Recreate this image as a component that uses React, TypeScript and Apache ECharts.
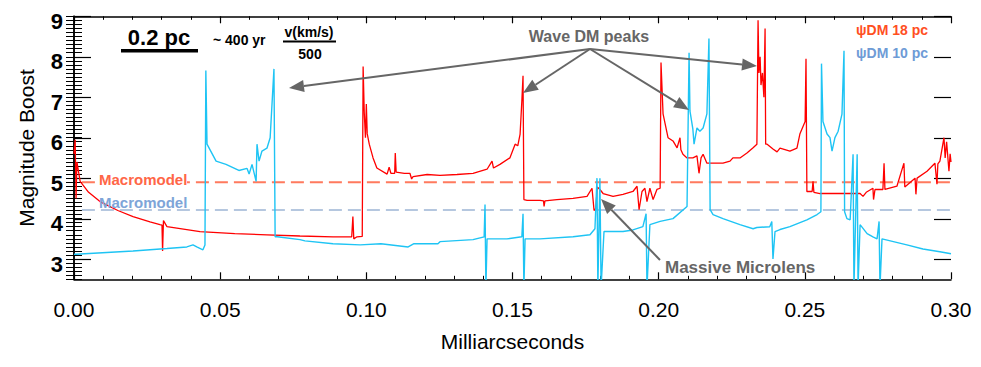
import React, { useEffect, useRef } from "react";
import * as echarts from "echarts";

// Tick values
const yMajorMin = 3;
const yMajorMax = 9;
const xTickInterval = 0.05;

// Macromodel reference levels
const macroRed = 4.9;
const macroBlue = 4.21;
const macroStart = 0.0027;

// psiDM 18 pc (red) — [milliarcseconds, magnitude boost]
const psi18: [number, number][] = [
  [0.0, 5.6], [0.0004, 5.95], [0.0007, 4.5], [0.001, 5.4], [0.0021, 4.92], [0.005, 4.65],
  [0.0089, 4.42], [0.015, 4.2], [0.0202, 4.05], [0.026, 3.92], [0.0294, 3.85], [0.0301, 3.84],
  [0.0303, 3.2], [0.0306, 3.95], [0.0318, 3.8], [0.0431, 3.68], [0.055, 3.63], [0.066, 3.6],
  [0.0773, 3.57], [0.0886, 3.55], [0.095, 3.55], [0.0954, 4.05], [0.0957, 3.5], [0.0968, 3.55],
  [0.0986, 3.56], [0.0989, 7.76], [0.0993, 6.6], [0.0997, 6.0], [0.1, 6.83], [0.1003, 6.1],
  [0.101, 5.84], [0.1023, 5.5], [0.1036, 5.25], [0.1071, 5.1], [0.1078, 5.27], [0.1084, 5.12],
  [0.1097, 5.12], [0.1099, 5.62], [0.1102, 5.15], [0.113, 5.12], [0.1149, 5.12], [0.1155, 4.98],
  [0.116, 5.04], [0.1208, 5.09], [0.1252, 5.07], [0.131, 5.09], [0.1365, 5.12], [0.1413, 5.22],
  [0.143, 5.42], [0.1435, 5.25], [0.1457, 5.34], [0.1491, 5.5], [0.1509, 5.84], [0.1518, 5.8],
  [0.1526, 6.09], [0.1532, 6.91], [0.1536, 7.53], [0.1539, 4.47], [0.155, 4.45], [0.1594, 4.45],
  [0.1606, 4.44], [0.1608, 4.3], [0.1611, 4.44], [0.1652, 4.47], [0.1707, 4.5], [0.1755, 4.55],
  [0.1772, 4.75], [0.1779, 4.2], [0.1785, 4.25], [0.179, 4.78], [0.1799, 4.72], [0.181, 4.62],
  [0.1844, 4.55], [0.1878, 4.6], [0.1912, 4.67], [0.1926, 4.8], [0.1933, 4.22], [0.1943, 4.67],
  [0.1953, 4.75], [0.196, 4.42], [0.197, 4.75], [0.1981, 4.47], [0.1994, 4.72], [0.2005, 4.75],
  [0.2008, 7.86], [0.2015, 6.59], [0.2032, 6.0], [0.2049, 5.92], [0.2063, 5.75], [0.2073, 6.0],
  [0.2076, 5.7], [0.2083, 5.59], [0.2097, 5.5], [0.2107, 5.5], [0.2117, 5.5], [0.2131, 5.55],
  [0.2138, 5.12], [0.2145, 5.5], [0.2152, 5.59], [0.2165, 5.37], [0.2186, 5.37], [0.222, 5.37],
  [0.2244, 5.42], [0.2254, 5.5], [0.2278, 5.5], [0.2302, 5.62], [0.2323, 5.75], [0.2336, 5.84],
  [0.234, 8.9], [0.2343, 7.6], [0.2347, 8.0], [0.235, 7.3], [0.2355, 7.6], [0.236, 7.0],
  [0.2364, 8.7], [0.2366, 5.84], [0.2371, 5.84], [0.2391, 5.72], [0.2405, 5.65], [0.2415, 5.74],
  [0.2449, 5.67], [0.2473, 5.74], [0.2483, 6.09], [0.2501, 6.4], [0.2504, 7.95], [0.2507, 4.67],
  [0.2525, 4.67], [0.2528, 4.92], [0.2531, 4.65], [0.2552, 4.62], [0.262, 4.62], [0.2689, 4.62],
  [0.2699, 4.55], [0.271, 4.65], [0.2733, 4.75], [0.2735, 4.47], [0.274, 4.72], [0.2767, 4.72],
  [0.2771, 5.37], [0.2774, 4.72], [0.2815, 4.8], [0.2839, 5.37], [0.2842, 4.78], [0.2877, 5.0],
  [0.288, 4.6], [0.2884, 5.0], [0.2918, 5.17], [0.2945, 5.37], [0.2952, 4.85], [0.2955, 5.35],
  [0.2962, 5.42], [0.2976, 6.0], [0.298, 5.5], [0.2985, 5.9], [0.2993, 5.17], [0.2997, 5.6],
  [0.3, 5.4],
];

// psiDM 10 pc (cyan)
const psi10: [number, number][] = [
  [0.0, 3.12], [0.0007, 3.12], [0.0202, 3.2], [0.0318, 3.26], [0.0386, 3.3], [0.0407, 3.35],
  [0.042, 3.3], [0.0441, 3.23], [0.0448, 3.35], [0.0451, 7.66], [0.0455, 5.84], [0.0486, 5.42],
  [0.052, 5.34], [0.0564, 5.19], [0.0592, 5.24], [0.0599, 5.1], [0.0609, 5.34], [0.0623, 4.92],
  [0.0626, 5.84], [0.0633, 5.42], [0.0643, 5.67], [0.066, 5.74], [0.0671, 6.0], [0.0684, 7.7],
  [0.0688, 3.55], [0.0695, 3.55], [0.0773, 3.48], [0.079, 3.45], [0.0886, 3.38], [0.0979, 3.35],
  [0.105, 3.38], [0.1143, 3.3], [0.1163, 3.38], [0.1245, 3.38], [0.1252, 3.43], [0.1365, 3.48],
  [0.1403, 3.55], [0.1406, 4.35], [0.1409, 2.3], [0.1413, 3.5], [0.1481, 3.5], [0.1532, 3.55],
  [0.1536, 4.12], [0.1539, 2.3], [0.1543, 3.5], [0.1594, 3.5], [0.1707, 3.55], [0.1765, 3.6],
  [0.1782, 3.75], [0.1789, 5.0], [0.1792, 2.3], [0.1799, 5.0], [0.1803, 2.3], [0.1813, 3.68],
  [0.1827, 3.68], [0.1878, 3.68], [0.1912, 3.72], [0.1946, 3.8], [0.1957, 4.12], [0.196, 2.3],
  [0.197, 3.85], [0.2005, 3.93], [0.2049, 4.0], [0.2097, 4.3], [0.2104, 8.1], [0.2107, 6.66],
  [0.2117, 6.21], [0.2121, 5.84], [0.2131, 6.24], [0.2141, 6.16], [0.2152, 6.24], [0.2165, 6.59],
  [0.2172, 8.45], [0.2176, 4.22], [0.2186, 4.1], [0.222, 4.0], [0.2278, 3.85], [0.2323, 3.75],
  [0.2336, 3.78], [0.238, 3.8], [0.2387, 3.93], [0.2391, 3.0], [0.2398, 3.68], [0.2415, 3.73],
  [0.2449, 3.8], [0.2507, 3.97], [0.2542, 4.1], [0.2555, 4.17], [0.2557, 7.83], [0.2562, 6.4],
  [0.2576, 6.09], [0.2586, 6.0], [0.2593, 5.67], [0.2603, 6.0], [0.2614, 6.16], [0.2627, 6.58],
  [0.2634, 8.15], [0.2636, 4.17], [0.2644, 4.0], [0.2655, 3.97], [0.2665, 5.59], [0.2668, 2.3],
  [0.2679, 5.59], [0.2682, 2.3], [0.2689, 3.85], [0.2713, 3.63], [0.2733, 3.55], [0.2747, 3.5],
  [0.2754, 3.93], [0.2757, 2.3], [0.2764, 3.5], [0.2849, 3.35], [0.2904, 3.25], [0.2962, 3.18],
  [0.3, 3.13],
];

const FONT = "Liberation Sans, Arial, Helvetica, sans-serif";
const GRAY = "#666666";

function arrow(ox: number, oy: number, tx: number, ty: number) {
  const dx = tx - ox;
  const dy = ty - oy;
  const L = Math.hypot(dx, dy);
  const ux = dx / L;
  const uy = dy / L;
  const bx = tx - 15 * ux;
  const by = ty - 15 * uy;
  const nx = -uy;
  const ny = ux;
  return [
    { type: "line", z: 100, shape: { x1: ox, y1: oy, x2: bx, y2: by }, style: { stroke: GRAY, lineWidth: 2 } },
    {
      type: "polygon",
      z: 100,
      shape: { points: [[tx, ty], [bx + 6 * nx, by + 6 * ny], [bx - 6 * nx, by - 6 * ny]] },
      style: { fill: GRAY },
    },
  ];
}

function txt(x: number, y: number, text: string, size: number, color: string, weight: string, align = "left") {
  return {
    type: "text",
    z: 101,
    x,
    y,
    style: {
      text,
      fill: color,
      fontSize: size,
      fontWeight: weight,
      fontFamily: FONT,
      textAlign: align,
      textVerticalAlign: "middle",
    },
  };
}

export default function App() {
  const ref = useRef<HTMLDivElement>(null);
  useEffect(() => {
    const chart = echarts.init(ref.current!, null, { renderer: "svg" });
    const PLOT_TOP = 16.3;
    const PLOT_BOTTOM = 87.7; // from bottom edge
    const UNIT = 40.5; // px per magnitude unit
    // Second grid spans exactly [3, 9] so integer ticks fall on the same pixels.
    const MAJOR_BOTTOM = 367 - (PLOT_TOP + (yMajorMax - yMajorMin) * UNIT);

    // Fine ticks every 0.1 (interval 0.5 + minor ticks), labels at integers
    const yFine = (pos: "left" | "right", labels: boolean) => ({
      type: "value",
      gridIndex: 0,
      position: pos,
      min: 2.5,
      max: 9,
      interval: 0.5,
      axisLine: { show: true, lineStyle: { color: "#000", width: 1.5 } },
      splitLine: { show: false },
      axisTick: { show: true, inside: true, length: 8, lineStyle: { color: "#000", width: 1 } },
      minorTick: { show: true, splitNumber: 5, length: 8, lineStyle: { color: "#000", width: 1 } },
      axisLabel: labels
        ? {
            show: true,
            color: "#000",
            fontSize: 22,
            fontWeight: "bold",
            fontFamily: FONT,
            margin: 11,
            verticalAlign: "top",
            lineHeight: 10,
            formatter: (v: number) => (Number.isInteger(v) ? String(v) : ""),
          }
        : { show: false },
    });
    // Long ticks at integers
    const yMajor = (pos: "left" | "right") => ({
      type: "value",
      gridIndex: 1,
      position: pos,
      min: yMajorMin,
      max: yMajorMax,
      interval: 1,
      axisLine: { show: false },
      splitLine: { show: false },
      axisTick: { show: true, inside: true, length: 17, lineStyle: { color: "#000", width: 1.2 } },
      axisLabel: { show: false },
    });
    const xAx = (pos: "bottom" | "top", labels: boolean) => ({
      type: "value",
      gridIndex: 0,
      position: pos,
      min: 0,
      max: 0.3,
      interval: xTickInterval,
      axisLine: { show: true, lineStyle: { color: "#000", width: 1.5 } },
      splitLine: { show: false },
      axisTick: { show: true, inside: true, length: 7, lineStyle: { color: "#000", width: 1.2 } },
      minorTick: { show: true, splitNumber: 5, length: 3.5, lineStyle: { color: "#000", width: 1 } },
      axisLabel: labels
        ? {
            show: true,
            color: "#000",
            fontSize: 21,
            fontFamily: FONT,
            margin: 20,
            formatter: (v: number) => v.toFixed(2),
          }
        : { show: false },
      name: labels ? "Milliarcseconds" : "",
      nameLocation: "middle",
      nameGap: 52,
      nameTextStyle: { color: "#000", fontSize: 21, fontFamily: FONT },
    });

    const option: any = {
      animation: false,
      backgroundColor: "#fff",
      grid: [
        { left: 74, right: 30, top: PLOT_TOP, bottom: PLOT_BOTTOM, containLabel: false },
        { left: 74, right: 30, top: PLOT_TOP, bottom: MAJOR_BOTTOM, containLabel: false },
      ],
      xAxis: [
        xAx("bottom", true),
        xAx("top", false),
        { type: "value", gridIndex: 1, min: 0, max: 0.3, show: false },
      ],
      yAxis: [yFine("left", true), yFine("right", false), yMajor("left"), yMajor("right")],
      series: [
        {
          name: "Macromodel ψDM 18 pc",
          type: "line",
          data: [[macroStart, macroRed], [0.3, macroRed]],
          showSymbol: false,
          symbol: "none",
          lineStyle: { color: "#ff7a5e", width: 2, type: [13, 6] },
          z: 1,
        },
        {
          name: "Macromodel ψDM 10 pc",
          type: "line",
          data: [[macroStart, macroBlue], [0.3, macroBlue]],
          showSymbol: false,
          symbol: "none",
          lineStyle: { color: "#b5c7df", width: 2, type: [13, 6] },
          z: 1,
        },
        {
          name: "ψDM 18 pc",
          type: "line",
          data: psi18,
          showSymbol: false,
          symbol: "none",
          clip: true,
          lineStyle: { color: "#ff0000", width: 1.3 },
          z: 2,
        },
        {
          name: "ψDM 10 pc",
          type: "line",
          data: psi10,
          showSymbol: false,
          symbol: "none",
          clip: true,
          lineStyle: { color: "#1ec4f4", width: 1.4 },
          z: 3,
        },
      ],
      graphic: [
        {
          type: "text",
          z: 101,
          x: 26,
          y: 148,
          rotation: Math.PI / 2,
          style: {
            text: "Magnitude Boost",
            fill: "#000",
            fontSize: 21,
            fontFamily: FONT,
            textAlign: "center",
            textVerticalAlign: "middle",
          },
        },
        txt(159, 37, "0.2 pc", 22, "#000", "bold", "center"),
        { type: "rect", z: 100, shape: { x: 121, y: 49, width: 77, height: 3.5 }, style: { fill: "#000" } },
        txt(213, 40, "~ 400 yr", 14, "#000", "bold", "left"),
        txt(309, 32, "v(km/s)", 14, "#000", "bold", "center"),
        { type: "rect", z: 100, shape: { x: 283, y: 40.5, width: 53, height: 2 }, style: { fill: "#000" } },
        txt(310, 54, "500", 14, "#000", "bold", "center"),
        txt(928, 30, "ψDM 18 pc", 14, "#ff4f1f", "bold", "right"),
        txt(928, 53, "ψDM 10 pc", 14, "#6e9bd6", "bold", "right"),
        { type: "rect", z: 100, shape: { x: 98, y: 171, width: 89, height: 16 }, style: { fill: "#fff" } },
        txt(99, 179, "Macromodel", 15, "#ff6647", "bold", "left"),
        txt(99, 202, "Macromodel", 15, "#7ea5d8", "bold", "left"),
        txt(589, 36, "Wave DM peaks", 16, GRAY, "bold", "center"),
        ...arrow(590, 49, 289, 88),
        ...arrow(590, 49, 523, 93),
        ...arrow(590, 49, 689, 110),
        ...arrow(590, 49, 757, 66),
        txt(665, 267, "Massive Microlens", 17, GRAY, "bold", "left"),
        ...arrow(660, 260, 601, 199),
      ],
    };
    chart.setOption(option);
    return () => chart.dispose();
  }, []);
  return (
    <div
      ref={ref}
      style={{ position: "fixed", left: 0, top: 0, width: 981, height: 367, background: "#fff" }}
    />
  );
}
